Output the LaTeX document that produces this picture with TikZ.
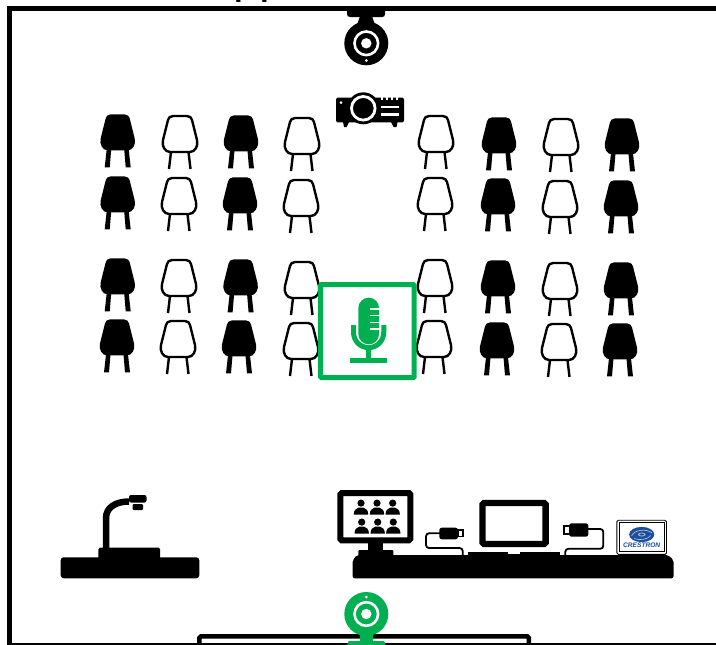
\documentclass[tikz,border=0pt]{standalone}
\usepackage{fontspec}
\setmainfont{Liberation Sans}
\definecolor{cgreen}{HTML}{00B050}
\definecolor{cblue}{HTML}{1B4F9C}
\tikzset{
  x=1pt,y=-1pt,
  seatpath/.style={line join=round},
  pics/fullchair/.style={code={
    \fill (-7,0) -- (7,0) .. controls (10,0) and (11.5,2) .. (12,4) -- (17,24) .. controls (18.5,30) and (15,36) .. (10,36) -- (-10,36) .. controls (-15,36) and (-18.5,30) .. (-17,24) -- (-12,4) .. controls (-11.5,2) and (-10,0) .. (-7,0) -- cycle;
    \fill (-11,35) -- (-6.5,35) -- (-8,53) -- (-13,53) -- cycle;
    \fill (6.5,35) -- (11,35) -- (13,53) -- (8,53) -- cycle;
  }},
  pics/openchair/.style={code={
    \draw[line width=2.4pt,seatpath] (-7,0) -- (7,0) .. controls (10,0) and (11.5,2) .. (12,4) -- (17,24) .. controls (18.5,30) and (15,36) .. (10,36) -- (-10,36) .. controls (-15,36) and (-18.5,30) .. (-17,24) -- (-12,4) .. controls (-11.5,2) and (-10,0) .. (-7,0) -- cycle;
    \draw[line width=2.4pt] (-9,36) -- (-11,53);
    \draw[line width=2.4pt] (8.5,36) -- (10.5,53);
  }},
  pics/camball/.style={code={
    \fill (0,0) circle[radius=22pt];
    \draw[white,line width=2.6pt] (0,0) circle[radius=11.8pt];
    \fill[white] (0,0) circle[radius=5.2pt];
  }},
  pics/person/.style={code={
    \fill (0,-4.6) circle[radius=3.6pt];
    \fill (-7.2,7) .. controls (-7.2,2.5) and (-5,0.6) .. (-2.5,0) -- (2.5,0) .. controls (5,0.6) and (7.2,2.5) .. (7.2,7) -- cycle;
  }}
}
\begin{document}
\begin{tikzpicture}
\useasboundingbox (0,0) rectangle (716,645);
\fill[white] (0,0) rectangle (716,645);
\begin{scope}
\clip (0,0) rectangle (716,645);
\node[anchor=base west,inner sep=0pt,font=\fontsize{48}{48}\selectfont] (ptext) at (232.8,-7) {pp};
% frame
\draw[line width=5pt,line join=miter] (9.5,650) -- (9.5,8.5) -- (720,8.5);
\draw[line width=1.6pt] (10,644.2) -- (720,644.2);
% ceiling camera
\fill (347,10) -- (385,10) -- (385,14) .. controls (385,16) and (384,17) .. (382,17) -- (350,17) .. controls (348,17) and (347,16) .. (347,14) -- cycle;
\fill (360,16) -- (372,16) -- (375,25) -- (357,25) -- cycle;
\pic at (366.3,43.3) {camball};
\fill[white] (366.3,60.5) circle[radius=1.5pt];
% projector
\fill[rounded corners=1.5pt] (336,97.7) -- (404,97.7) -- (404,122.3) -- (336,122.3) -- cycle;
\fill[white] (381,97) rectangle (383,99.5);
\fill[white] (386,97) rectangle (388,99.5);
\fill[white] (391,97) rectangle (393,99.5);
\fill[white] (396,97) rectangle (398,99.5);
\fill (343,122) -- (349,122) -- (346.5,127) -- (344,127) -- cycle;
\fill (391,122) -- (397.5,122) -- (396.5,127) -- (393.5,127) -- cycle;
\fill (363.3,108.3) circle[radius=16pt];
\draw[white,line width=2.8pt] (363.3,108.3) circle[radius=11.8pt];
\fill[white] (341,102.7) circle[radius=1.5pt];
\fill[white] (380.7,105.5) rectangle (399,108.2);
\fill[white] (380.7,113) rectangle (399,115.6);
% chairs
\foreach \x/\y in {117.7/115,241/116,499/118,622/119,117.7/177,240/178,498/179,621/181,117.7/259,240.6/260,498/261,621/263,117/320,239/321,497/323,620/324}
  \pic at (\x,\y-0.6) {fullchair};
\foreach \x/\y in {180/116,302/118,436/116,561/119,179/178,301/180,435/178,560/181,179/260,302/262,435/260,560/263,178/321,301/323,434/321,559/324}
  \pic at (\x,\y) {openchair};
% microphone
\draw[cgreen,line width=5pt,rounded corners=1pt,fill=white] (320.6,284.5) rectangle (414.2,377.6);
\fill[cgreen,rounded corners=10.2pt] (358.4,297.7) rectangle (379,344.3);
\foreach \y in {309,315.5,322.5,329}
  \fill[white] (370,\y-0.8) rectangle (380,\y+0.8);
\draw[cgreen,line width=5pt] (353.5,325) -- (353.5,332) .. controls (353.5,341) and (360,347.6) .. (368.7,347.6) .. controls (377,347.6) and (383.8,341) .. (383.8,332) -- (383.8,325);
\fill[cgreen] (366.2,349) rectangle (371,358);
\fill[cgreen] (350,357.7) rectangle (386.7,363.3);
% doc camera
\fill[rounded corners=3pt] (60.7,557.3) rectangle (199.3,578.3);
\fill[rounded corners=1.5pt] (98.3,547.7) rectangle (160,560);
\draw[line width=6.5pt] (106,550) -- (106,518) .. controls (106,508) and (115,501.5) .. (129,501.5);
\fill[rounded corners=2pt] (129,495) rectangle (146.5,502.5);
\fill[rounded corners=1pt] (132.7,504) rectangle (143,510);
% long desk
\fill[rounded corners=2pt] (352.7,578.3) -- (352.7,560) -- (357,555) -- (668,555) -- (673.5,560) -- (673.5,578.3) -- cycle;
% monitor
\draw[line width=6pt,rounded corners=1.5pt] (340.3,493) rectangle (410.3,540.4);
\fill (367.7,543) rectangle (383.3,551);
\fill[rounded corners=1pt] (358.3,550) rectangle (393.3,556);
\foreach \x/\y in {361/507.7,377/507.7,392.7/507.7,361.7/526.7,377.7/526.7,393.3/526.7}
  \pic at (\x,\y) {person};
% left cable
\draw[line width=1.8pt,rounded corners=3pt] (440,533.3) -- (426,533.3) -- (426,548) -- (462.7,548) -- (462.7,556);
\fill[rounded corners=2.5pt] (439.3,527.7) rectangle (458,539.3);
\draw[line width=1.8pt,fill=white] (458,530.3) rectangle (463.3,536.5);
% laptop
\draw[line width=6.3pt,rounded corners=1.5pt] (482.5,503) rectangle (545.6,544);
\fill (468.3,551.7) rectangle (560,556);
\fill[white] (508,551) rectangle (520,553.7);
% right cable
\draw[line width=1.8pt,rounded corners=3pt] (588,529) -- (603.3,529) -- (603.3,548.8) -- (565.3,548.8) -- (565.3,556);
\fill[rounded corners=2.5pt] (569,523.3) rectangle (588.3,536.7);
\draw[line width=1.8pt,fill=white] (564.3,526) rectangle (569.5,534);
% crestron
\draw[black,line width=0.9pt,fill=white,rounded corners=1.5pt] (616.9,520.2) rectangle (666.5,554.4);
\draw[black,line width=0.9pt] (619.4,522.7) rectangle (664,551.4);
\fill[cblue] (641.7,534.5) ellipse[x radius=12.6pt,y radius=7.6pt];
\draw[white!70!cblue,line width=0.6pt] (631.5,536) .. controls (634,530) and (646,528) .. (652,533);
\draw[white!70!cblue,line width=0.6pt] (634,538.5) .. controls (640,541) and (649,539) .. (650.5,535.5);
\fill[white!60!cblue] (641.7,534.5) ellipse[x radius=3.8pt,y radius=2pt];
\fill[cblue] (641.7,534.5) ellipse[x radius=2.4pt,y radius=1.1pt];
\node[inner sep=0pt,text=cblue,font=\fontsize{6.6}{7}\selectfont\bfseries\itshape] (brand) at (641.7,545) {CRESTRON};
% bottom screen + camera
\draw[line width=4.6pt,rounded corners=1.5pt] (199.4,650) -- (199.4,636.4) -- (528.8,636.4) -- (528.8,650);
\fill[cgreen] (360,630) -- (372.6,630) -- (372.6,642) -- (360,642) -- cycle;
\fill[cgreen,rounded corners=2pt] (347.7,641) rectangle (385,650);
\pic[cgreen] at (366.3,614) {camball};
\fill[white] (366.3,597) circle[radius=1.5pt];
\end{scope}
\end{tikzpicture}
\end{document}
